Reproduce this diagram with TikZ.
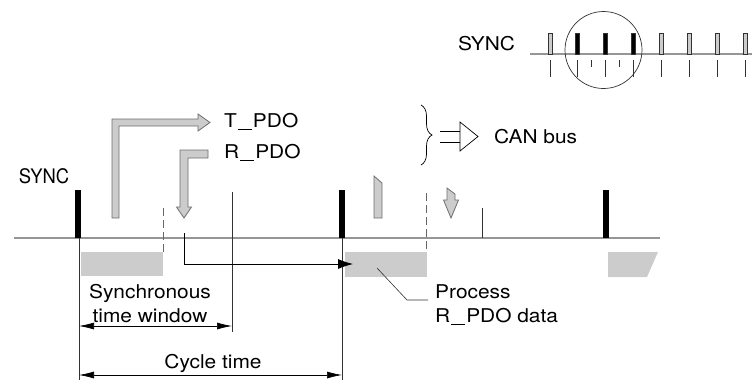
\documentclass[tikz,border=0pt]{standalone}
\usepackage{fontspec}
\setmainfont{TeX Gyre Heros}[FakeStretch=1.1]
\newfontfamily\syncfont{TeX Gyre Heros}[FakeStretch=0.92]
\usetikzlibrary{arrows.meta, positioning, decorations.pathreplacing}

\definecolor{pdofill}{RGB}{204,204,204}
\definecolor{busline}{RGB}{150,150,150}
\definecolor{pdoedge}{RGB}{110,110,110}
\newcommand{\pdobar}{\kern1pt\rule[-3pt]{14pt}{1.3pt}\kern1pt}

\begin{document}
\begin{tikzpicture}[
    x=1pt, y=-1pt,
    lbl/.style={inner sep=0pt, font=\fontsize{19}{24}\selectfont},
    bus/.style={draw=busline, line width=1.6pt},
    syncbar/.style={fill=black},
    window/.style={fill=pdofill},
    pdo/.style={fill=pdofill, draw=pdoedge, line width=0.8pt, line join=miter},
    thin/.style={draw=black!80, line width=0.6pt},
    dashline/.style={draw=black!60, line width=0.8pt, dash pattern=on 8pt off 4pt},
    dim/.style={draw=black, line width=0.7pt, {Latex[length=15pt,width=7pt]}-{Latex[length=15pt,width=7pt]}},
    arr/.style={draw=black, line width=0.8pt, -{Latex[length=15pt,width=10pt]}},
    pulse/.style={draw=black!80, line width=0.6pt},
]
    \useasboundingbox (0,0) rectangle (752,381);

    % inset: SYNC sequence on the bus
    \node[lbl, anchor=base] (insetsync) at (486.5,50) {SYNC};
    \draw[bus, line width=1.2pt] (530,54) -- (752,54);
    \foreach \px/\pc in {550/pdofill, 577/black, 605/black, 633/black, 661/pdofill, 689/pdofill, 717/pdofill, 745/pdofill} {
        \draw[pulse, fill=\pc] (\px-2,33) rectangle (\px+2,54);
        \draw[pulse] (\px,60) -- (\px,77);
    }
    \foreach \px in {591, 619}
        \draw[pulse] (\px,60) -- (\px,67);
    \draw[black!80, line width=0.7pt] (603.5,50) circle (38.5);

    % main time line
    \draw[bus] (14,238) -- (660,238);
    \foreach \sx in {78, 342, 606}
        \fill[syncbar] (\sx-3,190) rectangle (\sx+3,238);
    \node[lbl, anchor=base, font=\syncfont\fontsize{20}{24}\selectfont] (sync) at (44,183.5) {SYNC};

    % synchronous windows and processing
    \fill[window] (81,252) rectangle (163,276);
    \fill[window] (345,252) rectangle (427,277);
    \fill[window] (608,252) -- (658,252) -- (647,277) -- (608,277) -- cycle;
    \draw[dashline] (163,208) -- (163,252);
    \draw[dashline] (426,193) -- (426,252);

    % T_PDO and R_PDO
    \draw[pdo] (112,218) -- (112,119) -- (198,119) -- (198,114) -- (210,122.5)
        -- (198,131) -- (198,126) -- (119,126) -- (119,218) -- cycle;
    \draw[pdo] (208,150) -- (180,150) -- (180,207) -- (176.5,207) -- (184,218)
        -- (191.5,207) -- (188,207) -- (188,158) -- (208,158) -- cycle;
    \node[lbl, anchor=base west] (tpdo) at (224,127) {T\pdobar PDO};
    \node[lbl, anchor=base west] (rpdo) at (224,158) {R\pdobar PDO};

    \draw[pdo] (374,176) -- (382,183) -- (382,218) -- (374,218) -- cycle;
    \draw[pdo] (447,188) -- (455,194) -- (455,200) -- (458.5,200) -- (451,218)
        -- (443.5,200) -- (447,200) -- cycle;

    % CAN bus legend
    \draw[black, line width=0.7pt, decorate, decoration={brace, amplitude=11pt}] (421,105) -- (421,165);
    \draw[black, line width=0.7pt] (440,131) -- (460,131) (440,142) -- (460,142);
    \draw[black, line width=0.7pt, fill=white] (460,122) -- (478,136.5) -- (460,151) -- cycle;
    \node[lbl, anchor=base west] (canbus) at (494,143) {CAN bus};

    % marker lines
    \draw[thin] (79,238) -- (79,380);
    \draw[thin] (342,238) -- (342,380);
    \draw[thin] (232,192) -- (232,332);
    \draw[thin] (482,208) -- (482,238);
    \coordinate (rxstart) at (184,233);
    \coordinate (rxend) at (353,264);
    \draw[arr] (rxstart) |- (rxend);

    % process R_PDO data
    \node[lbl, anchor=base west, align=left] (process) at (435,322) {Process\\R\pdobar PDO data};
    \coordinate (procpt) at (377,268);
    \coordinate (procend) at (428,300);
    \draw[thin] (procpt) -- (407,300) -- (procend);

    % dimensions
    \coordinate (winL) at (79,326);
    \coordinate (winR) at (232,326);
    \draw[dim] (winL) -- (winR);
    \node[lbl, anchor=base, align=center] (syncwin) at (150,322) {Synchronous\\time window};
    \coordinate (cycL) at (79,375);
    \coordinate (cycR) at (342,375);
    \draw[dim] (cycL) -- (cycR);
    \node[lbl, anchor=base] (cycle) at (213,368) {Cycle time};
\end{tikzpicture}
\end{document}
